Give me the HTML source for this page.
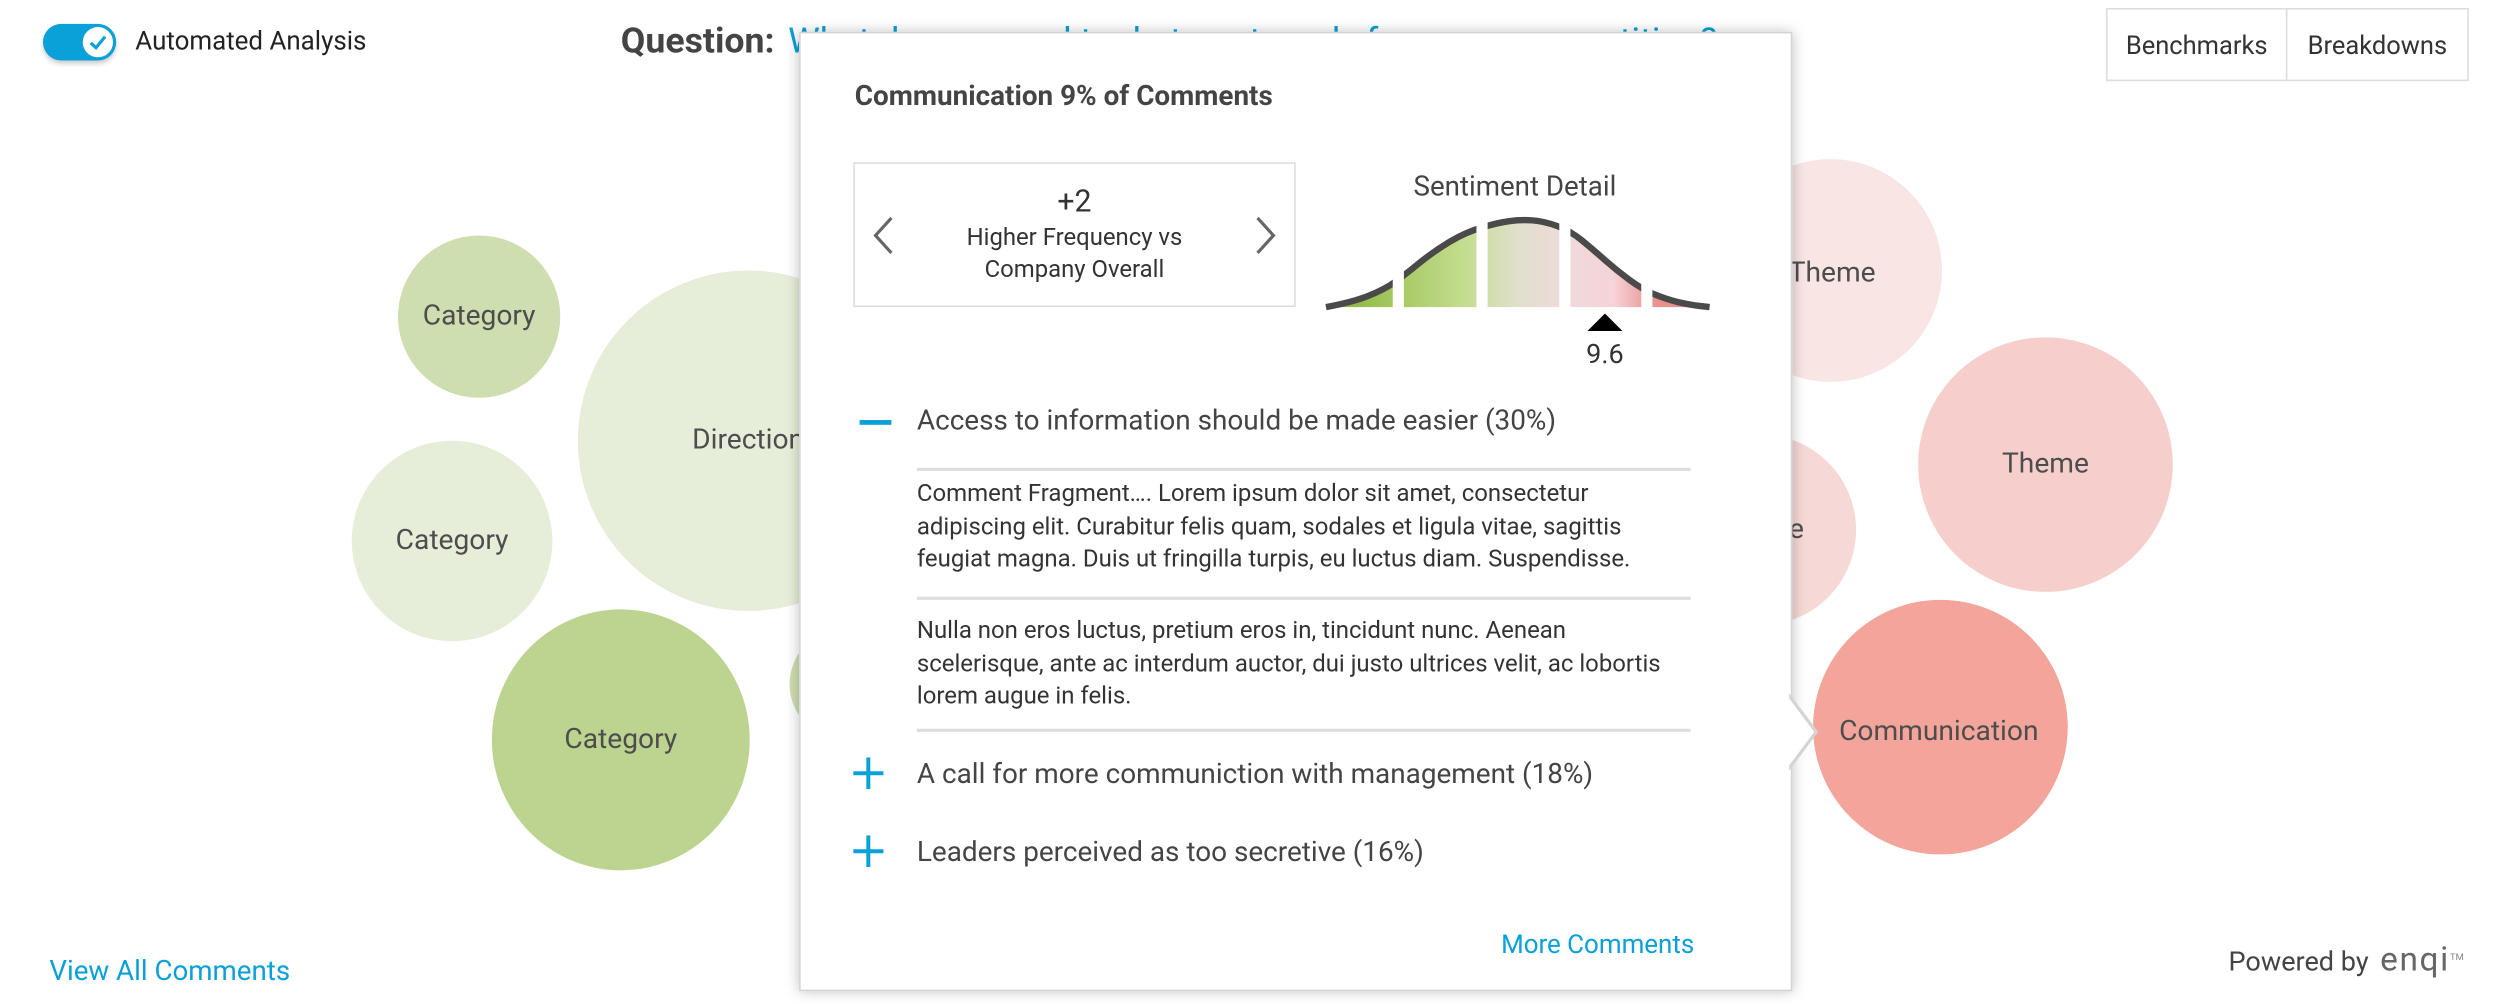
<!DOCTYPE html>
<html><head><meta charset="utf-8">
<style>
html,body{margin:0;padding:0;background:#fff;overflow:hidden;}
body{width:2496px;height:1004px;position:relative;font-family:"Roboto","Liberation Sans",sans-serif;color:#444;}
#stage{position:absolute;left:0;top:0;width:1568px;height:631px;transform:scale(1.5918,1.5911);transform-origin:0 0;}
.abs{position:absolute;white-space:nowrap;}
.bubble{position:absolute;border-radius:50%;display:flex;align-items:center;justify-content:center;font-size:17.7px;color:#4d4d4d;}
.t14{font-size:15.05px;line-height:20.5px;color:#333;}
.row{font-size:17.55px;color:#444;}
.hr{position:absolute;left:576px;width:486px;height:2px;background:#ddd;}
.blue{color:#0aa0d8;}
</style></head>
<body>
<div id="stage">
  <div class="abs" style="left:27px;top:15px;width:46px;height:23px;border-radius:12px;background:#0aa0d8;box-shadow:0 2px 3px rgba(0,0,0,.2);">
    <div style="position:absolute;right:2px;top:2px;width:19px;height:19px;border-radius:50%;background:#fff;">
      <svg width="19" height="19" viewBox="0 0 19 19"><path d="M5 10 L8.3 13 L14 6" fill="none" stroke="#0aa0d8" stroke-width="2"/></svg>
    </div>
  </div>
  <div class="abs" style="left:85px;top:16px;font-size:16.3px;color:#222;">Automated Analysis</div>
  <div class="abs" style="left:390px;top:13px;font-size:22.4px;font-weight:bold;color:#444;">Question: <span class="blue" style="font-weight:normal;margin-left:3px">What do you need to do to get ready for more competition?</span></div>

  <div class="abs" style="left:1323px;top:5px;width:226px;height:44px;border:1px solid #ddd;display:flex;font-size:16px;color:#333;">
    <div style="width:112px;border-right:1px solid #ddd;display:flex;align-items:center;justify-content:center;">Benchmarks</div>
    <div style="flex:1;display:flex;align-items:center;justify-content:center;">Breakdowns</div>
  </div>

  <div class="bubble" style="left:250px;top:148px;width:102px;height:102px;background:#cfdeb0;">Category</div>
  <div class="bubble" style="left:363px;top:170px;width:214px;height:214px;background:#e6eed9;">Direction</div>
  <div class="bubble" style="left:221px;top:277px;width:126px;height:126px;background:#e6eed9;">Category</div>
  <div class="bubble" style="left:309px;top:383px;width:162px;height:164px;background:#bdd490;">Category</div>
  <div class="bubble" style="left:496px;top:395px;width:70px;height:70px;background:#cfdeb0;"></div>
  <div class="bubble" style="left:1080px;top:100px;width:140px;height:140px;background:#f8e5e4;"><span style="margin-left:2px;margin-top:4px">Theme</span></div>
  <div class="bubble" style="left:1046px;top:273px;width:120px;height:120px;background:#f6d8d6;">Theme</div>
  <div class="bubble" style="left:1205px;top:212px;width:160px;height:160px;background:#f6cfcd;">Theme</div>
  <div class="bubble" style="left:1139px;top:377px;width:160px;height:160px;background:#f3a49b;"><span style="margin-top:6px;margin-right:2px">Communication</span></div>

  <div class="abs blue" style="left:31px;top:601px;font-size:17.4px;">View All Comments</div>
  <div class="abs" style="left:1400px;top:592px;font-size:17px;color:#444;">Powered by <span style="font-size:21px;color:#666;letter-spacing:1px;margin-left:3px">enqi</span><sup style="font-size:6px;color:#888">TM</sup></div>

  <div class="abs" style="left:502px;top:20px;width:622px;height:601px;background:#fff;border:1px solid #d4d4d4;box-shadow:0 0 8px rgba(0,0,0,.25);white-space:normal;"></div>
  <svg class="abs" style="left:1122px;top:436px;" width="26" height="50" viewBox="0 0 26 50"><path d="M1 0 L19 24 L1 48" fill="#fff" stroke="#d4d4d4" stroke-width="2"/><rect x="0" y="0" width="2" height="50" fill="#fff"/></svg>

  <div class="abs" style="left:537px;top:51px;font-size:17.5px;font-weight:bold;color:#444;">Communication 9% of Comments</div>

  <div class="abs" style="left:536px;top:102px;width:276px;height:89px;border:1px solid #ddd;">
    <svg style="position:absolute;left:10px;top:32px" width="16" height="26"><path d="M13 2 L3 13 L13 24" fill="none" stroke="#666" stroke-width="2"/></svg>
    <svg style="position:absolute;right:10px;top:32px" width="16" height="26"><path d="M3 2 L13 13 L3 24" fill="none" stroke="#666" stroke-width="2"/></svg>
    <div style="position:absolute;left:0;right:0;top:12px;text-align:center;font-size:19px;color:#333;">+2</div>
    <div style="position:absolute;left:0;right:0;top:36px;text-align:center;font-size:15px;line-height:20px;color:#333;">Higher Frequency vs<br>Company Overall</div>
  </div>

  <div class="abs" style="left:888px;top:108px;font-size:17.4px;color:#444;">Sentiment Detail</div>
  <svg id="sent" class="abs" style="left:0;top:0;" width="1568" height="631"></svg>

  <div class="abs" style="left:540px;top:264px;width:20px;height:3px;background:#0aa0d8;"></div>
  <div class="abs row" style="left:576px;top:255px;">Access to information should be made easier (30%)</div>
  <div class="hr" style="top:294px;"></div>
  <div class="abs t14" style="left:576px;top:300px;">Comment Fragment…. Lorem ipsum dolor sit amet, consectetur<br>adipiscing elit. Curabitur felis quam, sodales et ligula vitae, sagittis<br>feugiat magna. Duis ut fringilla turpis, eu luctus diam. Suspendisse.</div>
  <div class="hr" style="top:375px;"></div>
  <div class="abs t14" style="left:576px;top:386px;">Nulla non eros luctus, pretium eros in, tincidunt nunc. Aenean<br>scelerisque, ante ac interdum auctor, dui justo ultrices velit, ac lobortis<br>lorem augue in felis.</div>
  <div class="hr" style="top:458px;"></div>

  <svg class="abs" style="left:536px;top:476px" width="20" height="20"><path d="M0 10H19M9.5 0V20" stroke="#0aa0d8" stroke-width="2.5"/></svg>
  <div class="abs row" style="left:576px;top:477px;">A call for more communiction with management (18%)</div>
  <svg class="abs" style="left:536px;top:525px" width="20" height="20"><path d="M0 10H19M9.5 0V20" stroke="#0aa0d8" stroke-width="2.5"/></svg>
  <div class="abs row" style="left:576px;top:526px;">Leaders perceived as too secretive (16%)</div>

  <div class="abs blue" style="left:943px;top:584px;font-size:16.3px;">More Comments</div>
</div>

<script>
// sentiment distribution data (score axis 0..13.2)
const scorePoints = [0, 0.9, 2.0, 2.7, 3.7, 4.8, 5.9, 6.7, 7.5, 8.4, 9.2, 10.0, 10.9, 11.7, 12.5, 13.2];
const densityPoints = [0, 3, 11, 20, 35, 47, 53, 55, 54, 48, 36, 23, 11, 5, 1.5, 0];
const segmentBreaks = [2.49, 5.37, 8.22, 11.04];
const companyScore = [9.6];
const scoreLabels = ["9.6"];

const NS = "http://www.w3.org/2000/svg";
const svg = document.getElementById('sent');
const X0 = 833, X1 = 1074, BASE = 193, DMAX = 55, HPX = 55;
function xs(v){ return X0 + (v / 13.2) * (X1 - X0); }
function ys(d){ return BASE - (d / DMAX) * HPX; }

const defs = document.createElementNS(NS,'defs');
defs.innerHTML = '<linearGradient id="sg" gradientUnits="userSpaceOnUse" x1="833" y1="0" x2="1074" y2="0">'+
 '<stop offset="0" stop-color="#86b234"/><stop offset="0.35" stop-color="#c2dc8c"/><stop offset="0.5" stop-color="#dfe0cb"/>'+
 '<stop offset="0.62" stop-color="#f0dada"/><stop offset="0.75" stop-color="#f5d3d8"/><stop offset="0.85" stop-color="#e89492"/><stop offset="1" stop-color="#e88a86"/></linearGradient>';
svg.appendChild(defs);

const pts = scorePoints.map((s,i)=>[xs(s), ys(densityPoints[i])]);
let d = 'M' + pts[0][0].toFixed(1) + ' ' + pts[0][1].toFixed(1) + ' ';
for (let i = 1; i < pts.length - 1; i++) {
  const mx = (pts[i][0] + pts[i+1][0]) / 2, my = (pts[i][1] + pts[i+1][1]) / 2;
  d += 'Q' + pts[i][0].toFixed(1) + ' ' + pts[i][1].toFixed(1) + ' ' + mx.toFixed(1) + ' ' + my.toFixed(1) + ' ';
}
d += 'L' + pts[pts.length-1][0].toFixed(1) + ' ' + pts[pts.length-1][1].toFixed(1) + ' ';

const area = document.createElementNS(NS,'path');
area.setAttribute('d', d + 'L' + xs(13.2) + ' ' + BASE + ' L' + xs(0) + ' ' + BASE + ' Z');
area.setAttribute('fill','url(#sg)');


svg.appendChild(area);
const line = document.createElementNS(NS,'path');
line.setAttribute('d', d);
line.setAttribute('fill','none');
line.setAttribute('stroke','#4a4a4a');
line.setAttribute('stroke-width','4');
line.setAttribute('stroke-linejoin','round');


svg.appendChild(line);

segmentBreaks.forEach((b)=>{
  const r = document.createElementNS(NS,'rect');
  r.setAttribute('x', xs(b) - 3.5);
  r.setAttribute('y', BASE - HPX - 8);
  r.setAttribute('width', 7);
  r.setAttribute('height', HPX + 10);
  r.setAttribute('fill', '#fff');
  
  
  svg.appendChild(r);
});

companyScore.forEach((v,i)=>{
  const cx = xs(v);
  const tri = document.createElementNS(NS,'path');
  tri.setAttribute('d', `M${cx-11} 208 L${cx} 197 L${cx+11} 208 Z`);
  tri.setAttribute('fill', '#000');
  
  
  svg.appendChild(tri);
  const t = document.createElementNS(NS,'text');
  t.setAttribute('x', cx);
  t.setAttribute('y', 228);
  t.setAttribute('text-anchor','middle');
  t.setAttribute('font-size','17');
  t.setAttribute('fill','#333');
  t.setAttribute('font-family','Roboto, Liberation Sans, sans-serif');
  t.textContent = scoreLabels[i];
  
  
  svg.appendChild(t);
});
</script>
</body></html>
